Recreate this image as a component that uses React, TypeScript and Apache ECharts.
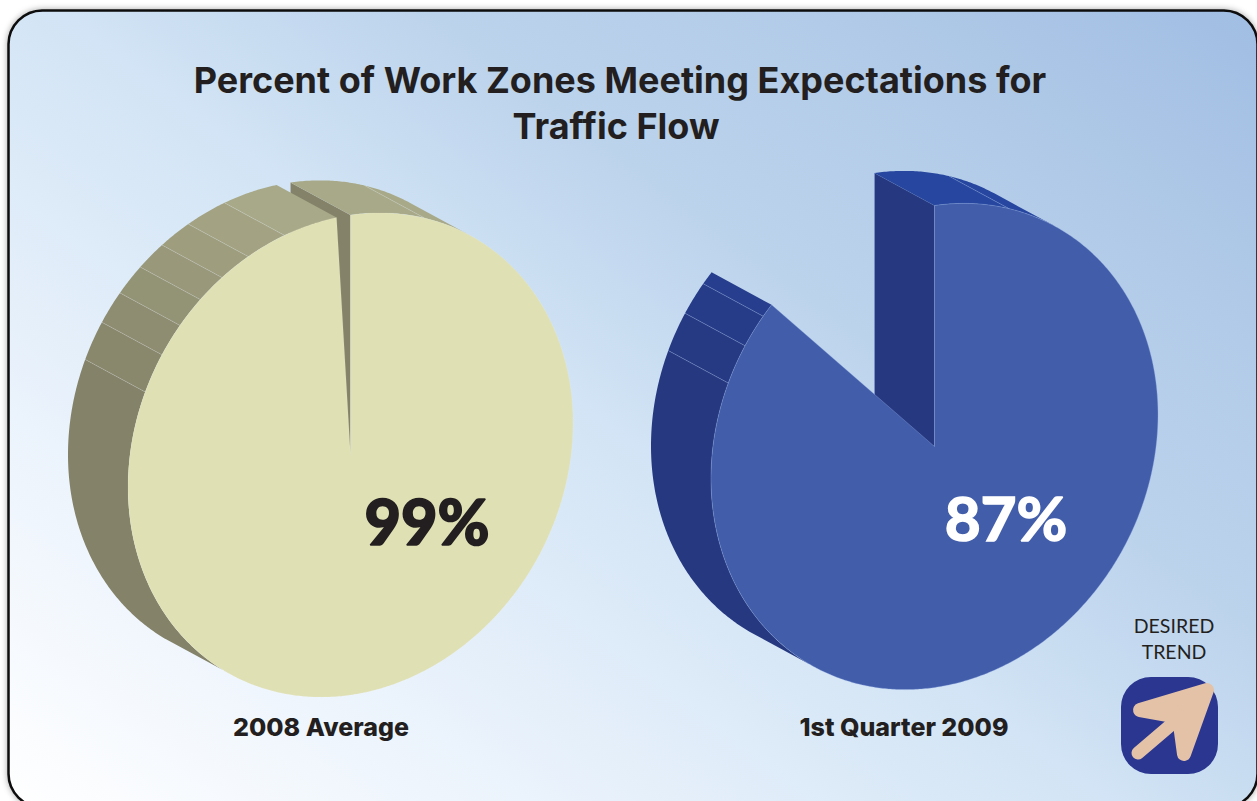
import React, { useEffect, useRef } from "react";
import * as echarts from "echarts";

const titleLines = ["Percent of Work Zones Meeting Expectations for", "Traffic Flow"];
const categories = ["2008 Average", "1st Quarter 2009"];
const meetingPercent = [99, 87];
const trendLines = ["DESIRED", "TREND"];
// shading breaks on the pie's rim, in percent of the circle
const rimBreaks = [5.4, 81.3, 83.9, 86.1, 88.2, 90.2, 92.4, 95.2];

const FONT = "Lato";
const HEAD_FONT = "Inter";
const layouts = [
  { cx: 350.5, cy: 455, ry: 240, rx: 222.5, skew: 32, labelX: 321, labelY: 727, valueX: 427, valueY: 520, valueColor: "#231f20", valueWeight: 900, valueSize: 63,
    face: "#dfe0b4", wall: "#848269", rimDark: [132, 130, 105], rimLight: [168, 169, 136], line: "rgba(255,255,255,0.25)", edge: "rgba(255,255,255,0.15)" },
  { cx: 934.5, cy: 446.5, ry: 241, rx: 223.5, skew: 32, labelX: 904, labelY: 727, valueX: 1006, valueY: 517, valueColor: "#ffffff", valueWeight: 700, valueSize: 62,
    face: "#425eaa", wall: "#263880", rimDark: [38, 56, 128], rimLight: [38, 70, 159], line: "rgba(170,190,235,0.45)", edge: "rgba(150,175,230,0.55)" },
];
const EX = -60;
const EY = -32.5;
const TURN_A = 32.4; // degrees where the extrusion leaves the outline
const TURN_B = 214;

function renderPie(params: any, api: any) {
  const i = params.dataIndex;
  const value = api.value(1) as number;
  const L = layouts[i];
  const P = (deg: number) => {
    const t = (deg * Math.PI) / 180;
    return [L.cx + L.rx * Math.sin(t), L.cy - L.ry * Math.cos(t) - L.skew * Math.sin(t)];
  };
  const end = (value / 100) * 360;
  const arc = (a: number, b: number) => {
    const pts: number[][] = [];
    const n = Math.max(2, Math.ceil(Math.abs(b - a) / 0.5));
    for (let k = 0; k <= n; k++) pts.push(P(a + ((b - a) * k) / n));
    return pts;
  };
  const off = (p: number[]) => [p[0] + EX, p[1] + EY];
  const children: any[] = [];

  // wall of the cut at 12 o'clock
  const p0 = P(0);
  children.push({
    type: "polygon",
    shape: { points: [[L.cx, L.cy], p0, off(p0), off([L.cx, L.cy])] },
    style: { fill: L.wall, stroke: L.edge, lineWidth: 0.5 },
  });

  // rim bands
  const breaksDeg = rimBreaks.map((b) => b * 3.6);
  const topBand = [0, breaksDeg[0], TURN_A];
  for (let k = 0; k < topBand.length - 1; k++) {
    const a = arc(topBand[k], topBand[k + 1]);
    children.push({
      type: "polygon",
      shape: { points: [...a, ...a.slice().reverse().map(off)] },
      style: { fill: `rgb(${L.rimLight.join(",")})` },
    });
  }
  const lower = [TURN_B, ...breaksDeg.slice(1).filter((d) => d < end), end];
  const nb = 7;
  for (let k = 0; k < lower.length - 1; k++) {
    const a = arc(lower[k], lower[k + 1]);
    const f = k / nb;
    const c = L.rimDark.map((d, j) => Math.round(d + (L.rimLight[j] - d) * f));
    children.push({
      type: "polygon",
      shape: { points: [...a, ...a.slice().reverse().map(off)] },
      style: { fill: `rgb(${c.join(",")})` },
    });
  }
  // fine rules between bands
  [breaksDeg[0], ...lower.slice(1, -1)].forEach((d) => {
    const p = P(d);
    const q = off(p);
    children.push({
      type: "line",
      shape: { x1: p[0], y1: p[1], x2: q[0], y2: q[1] },
      style: { stroke: L.line, lineWidth: 0.7 },
    });
  });
  // top face
  children.push({
    type: "polygon",
    shape: { points: [[L.cx, L.cy], ...arc(0, end)] },
    style: { fill: L.face, stroke: L.edge, lineWidth: 0.6 },
  });
  // value and category texts
  children.push({
    type: "text",
    style: {
      text: `${value}%`, x: L.valueX, y: L.valueY, align: "center", verticalAlign: "middle",
      fill: L.valueColor, font: `${L.valueWeight} ${L.valueSize}px ${FONT}`,
      stroke: L.valueColor, lineWidth: 1.6,
    },
  });
  children.push({
    type: "text",
    style: {
      text: categories[i], x: L.labelX, y: L.labelY, align: "center", verticalAlign: "middle",
      fill: "#231f20", font: `800 25px ${HEAD_FONT}`,
    },
  });
  return { type: "group", children };
}

export default function App() {
  const ref = useRef<HTMLDivElement>(null);
  useEffect(() => {
    document.body.style.margin = "0";
    const chart = echarts.init(ref.current!, undefined, { renderer: "svg" });
    chart.setOption({
      animation: false,
      backgroundColor: "#ffffff",
      graphic: [
        {
          type: "rect", z: -10, silent: true,
          shape: { x: 8.5, y: 10.5, width: 1249, height: 797, r: 34 },
          style: {
            fill: {
              type: "linear", global: true, x: 60, y: 850, x2: 897, y2: -266,
              colorStops: [
                { offset: 0, color: "#ffffff" },
                { offset: 0.23, color: "#ebf3fc" },
                { offset: 0.48, color: "#d2e4f5" },
                { offset: 0.64, color: "#bcd3ec" },
                { offset: 0.8, color: "#b2cbe8" },
                { offset: 1, color: "#a0bde3" },
              ],
            },
            stroke: "#0a0a0a", lineWidth: 2.5,
            shadowBlur: 6, shadowColor: "rgba(0,0,0,0.35)",
          },
        },
        ...titleLines.map((t, k) => ({
          type: "text", z: 20, silent: true,
          style: {
            text: t, x: k === 0 ? 620 : 616, y: k === 0 ? 80 : 126, align: "center", verticalAlign: "middle",
            fill: "#231f20", font: `700 36px ${HEAD_FONT}`,
          },
        })),
        ...trendLines.map((t, k) => ({
          type: "text", z: 20, silent: true,
          style: {
            text: t, x: 1174, y: 625 + k * 26, align: "center", verticalAlign: "middle",
            fill: "#231f20", font: `400 19.5px ${FONT}`,
          },
        })),
        {
          type: "rect", z: 10, silent: true,
          shape: { x: 1121, y: 677, width: 97, height: 97, r: 30 },
          style: { fill: "#2b3690" },
        },
        {
          type: "polygon", z: 11, silent: true,
          shape: { points: [[1207, 690], [1140, 710], [1179, 717], [1184, 754]] },
          style: { fill: "#e3c2a8", stroke: "#e3c2a8", lineWidth: 14, lineJoin: "round" },
        },
        {
          type: "line", z: 11, silent: true,
          shape: { x1: 1138, y1: 753, x2: 1172, y2: 724 },
          style: { stroke: "#e3c2a8", lineWidth: 13, lineCap: "round" },
        },
      ],
      series: [
        {
          type: "custom",
          coordinateSystem: "none",
          silent: true,
          z: 5,
          renderItem: renderPie,
          data: meetingPercent.map((v, i) => [i, v]),
        },
      ],
    });
    return () => chart.dispose();
  }, []);
  return <div ref={ref} style={{ position: "fixed", left: 0, top: 0, width: 1257, height: 801 }} />;
}
